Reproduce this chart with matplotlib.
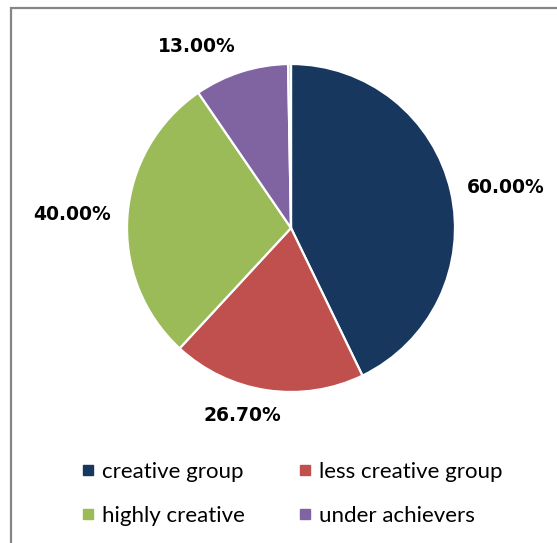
import matplotlib.pyplot as plt
from matplotlib.lines import Line2D
from matplotlib.patches import Rectangle
import numpy as np

# group shares as reported (they do not sum to 100)
groups = ['creative group', 'less creative group', 'highly creative', 'under achievers']
shares = [60.0, 26.7, 40.0, 13.0]
sliver = 0.4   # small unlabeled remainder at the top
colors = ['#17375e', '#c0504d', '#9bbb59', '#8064a2']
sliver_color = '#c8bcd8'

W, H = 557, 543
fig = plt.figure(figsize=(W / 100, H / 100), dpi=100)

# outer chart frame (runs off the right and bottom edges)
fig.patches.append(Rectangle((11 / W, -0.1), 1.2, 1.1 - 8 / H,
                             transform=fig.transFigure, fill=False,
                             edgecolor='#868686', linewidth=1.6))

R = 164  # pie radius in pixels
cx, cy = 291, H - 228
lim = 1.1
ax = fig.add_axes([(cx - lim * R) / W, (cy - lim * R) / H,
                   2 * lim * R / W, 2 * lim * R / H])

vals = shares + [sliver]
wedges, _ = ax.pie(vals, colors=colors + [sliver_color], startangle=90,
                   counterclock=False, radius=1.0,
                   wedgeprops=dict(edgecolor='white', linewidth=1.6))
ax.set_xlim(-lim, lim)
ax.set_ylim(-lim, lim)
ax.set_aspect('equal')
ax.axis('off')

# value labels just outside each slice
nudge = [(0, 0), (-22, 0), (0, 0), (0, 0)]
for w, v, (nx, ny) in zip(wedges[:4], shares, nudge):
    mid = np.deg2rad((w.theta1 + w.theta2) / 2)
    dx, dy = np.cos(mid), np.sin(mid)
    px, py = 1.1 * dx, 1.1 * dy
    if abs(dx) >= abs(dy):
        ha = 'left' if dx > 0 else 'right'
        va = 'center'
    else:
        ha = 'right' if dx < 0.2 and dy > 0 else 'center'
        va = 'bottom' if dy > 0 else 'top'
    ax.annotate(f'{v:.2f}%', (px, py), xytext=(nx, ny), textcoords='offset pixels',
                ha=ha, va=va, fontsize=13.5, fontweight='bold',
                family='DejaVu Sans', color='black', annotation_clip=False)

# legend laid out row by row
order = [0, 2, 1, 3]
handles = [Line2D([], [], linestyle='none', marker='s', markersize=7.5,
                  markerfacecolor=colors[i], markeredgecolor=colors[i])
           for i in order]
fig.legend(handles, [groups[i] for i in order], ncol=2, frameon=False,
           loc='center', bbox_to_anchor=(292 / W, 1 - 494 / H),
           prop=dict(family='Lato', size=16), handlelength=0.6,
           handletextpad=0.35, columnspacing=2.4, labelspacing=1.1)

fig.savefig('out.png', dpi=100)
